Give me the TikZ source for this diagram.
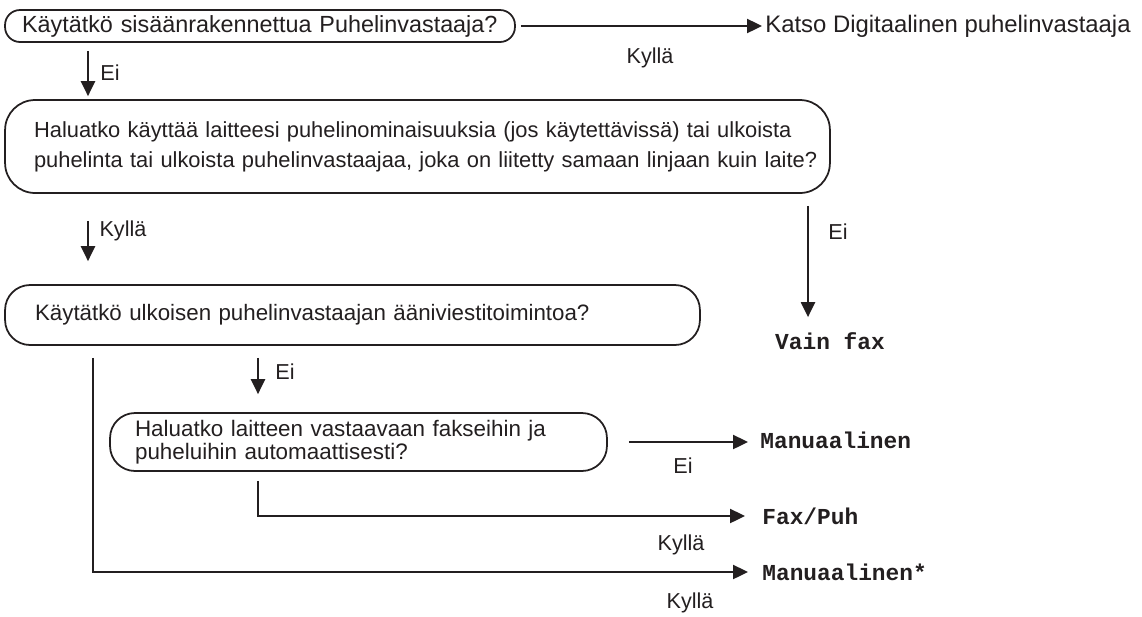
\documentclass[tikz,border=0pt]{standalone}
\usepackage{fontspec}
\setmainfont{Liberation Sans}
\setmonofont{Liberation Mono}
\usepackage{tikz}
\usetikzlibrary{arrows.meta,positioning,calc}
\definecolor{ink}{HTML}{231F20}

\begin{document}
\begin{tikzpicture}[
 x=0.02cm, y=-0.02cm,
 every node/.style={text=ink},
 qbox/.style={draw=ink,line width=1pt,rounded corners=#1,align=left,inner ysep=0pt,
   font=\fontsize{12.7}{17}\selectfont},
 qbox/.default=0.5cm,
 lbl/.style={font=\fontsize{12.3}{14}\selectfont,inner sep=0pt},
 res/.style={font=\fontsize{13}{15}\selectfont\ttfamily\bfseries,inner sep=0pt,anchor=west},
 arr/.style={-{Triangle[length=8.5pt,width=8pt]},draw=ink,line width=1.1pt}
]
\useasboundingbox (0,0) rectangle (1142,616);

% questions
\node[qbox=0.3cm,minimum height=0.64cm,text width=10cm,inner xsep=0.1cm,
  font=\fontsize{13.3}{16}\selectfont] (q1) at (260,26)
  {\hspace*{0.24cm}Käytätkö sisäänrakennettua Puhelinvastaaja?};
\node[qbox=0.6cm,minimum height=1.86cm,text width=16.42cm,inner xsep=0.04cm,
  font=\fontsize{12.45}{17}\selectfont] (q2) at (417.5,146.5)
  {\hspace*{0.54cm}Haluatko käyttää laitteesi puhelinominaisuuksia (jos käytettävissä) tai ulkoista\\
   \hspace*{0.54cm}puhelinta tai ulkoista puhelinvastaajaa, joka on liitetty samaan linjaan kuin laite?};
\node[qbox,minimum height=1.2cm,text width=12.7cm,inner xsep=0.6cm] (q3) at (352.5,315)
  {Käytätkö ulkoisen puhelinvastaajan ääniviestitoimintoa?};
\node[qbox,minimum height=1.16cm,text width=8.94cm,inner xsep=0.5cm,
  font=\fontsize{12.75}{12.8}\selectfont] (q4) at (358.5,442)
  {Haluatko laitteen vastaavaan fakseihin ja\\puheluihin automaattisesti?};

% results
\node[res,font=\fontsize{13.6}{16}\selectfont] (katso) at (765,26) {Katso Digitaalinen puhelinvastaaja};
\node[res,anchor=center] (vain) at (830,341) {Vain fax};
\node[res] (man1) at (760,440) {Manuaalinen};
\node[res] (faxpuh) at (762,516) {Fax/Puh};
\node[res] (man2) at (762,572) {Manuaalinen*};

% columns for the vertical arrows
\coordinate (c1) at (88,0);
\coordinate (c2) at (808,0);
\coordinate (c3) at (93,0);
\coordinate (c4) at (258,0);

% connectors
\draw[arr,shorten <=0.1cm,shorten >=0.06cm] (q1.east) -- (katso.west);
\node[lbl] (k1) at (650,58) {Kyllä};
\draw[arr,shorten <=0.16cm,shorten >=0.06cm] (q1.south -| c1) -- (q2.north -| c1);
\node[lbl] (e1) at (110,73) {Ei};
\draw[arr,shorten <=0.54cm,shorten >=0.46cm] (q2.south -| c1) -- (q3.north -| c1);
\node[lbl] (k2) at (123,231) {Kyllä};
\draw[arr,shorten <=0.24cm,shorten >=0.3cm] (q2.south -| c2) -- (vain.north -| c2);
\node[lbl] (e2) at (838,232) {Ei};
\draw[arr,shorten <=0.24cm,shorten >=0.36cm] (q3.south -| c4) -- (q4.north -| c4);
\node[lbl] (e3) at (285,372) {Ei};
\draw[arr,shorten <=0.42cm,shorten >=0.24cm] (q4.east) -- (q4.east -| man1.west);
\node[lbl] (e4) at (683,466) {Ei};
\draw[arr,shorten <=0.18cm,shorten >=0.34cm] (q4.south -| c4) |- (faxpuh.west);
\node[lbl] (k3) at (681,545) {Kyllä};
\draw[arr,shorten <=0.24cm,shorten >=0.28cm] (q3.south -| c3) |- (man2.west);
\node[lbl] (k4) at (690,603) {Kyllä};
\end{tikzpicture}
\end{document}
